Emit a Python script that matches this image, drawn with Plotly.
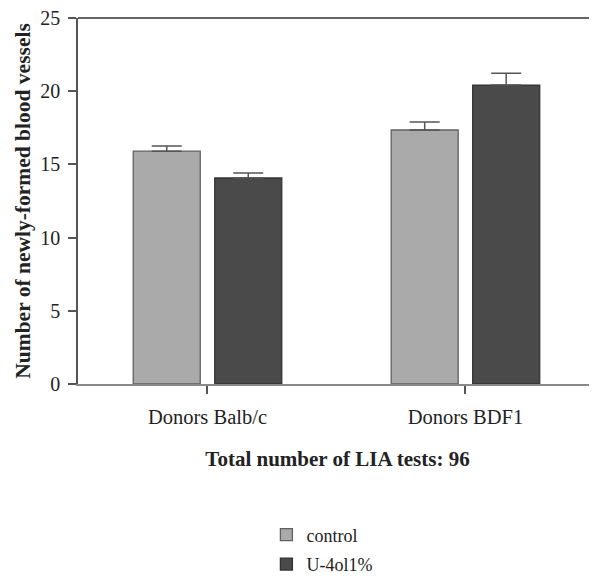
import plotly.graph_objects as go

categories = ["Donors Balb/c", "Donors BDF1"]
control_vals = [15.9, 17.35]
control_err = [0.35, 0.55]
u4_vals = [14.07, 20.42]
u4_err = [0.35, 0.8]
y_ticks = [0, 5, 10, 15, 20, 25]

FF = "Liberation Serif"

fig = go.Figure()
fig.add_trace(go.Bar(
    name="control", x=categories, y=control_vals, legendgroup="a",
    marker=dict(color="#aaaaaa", line=dict(color="#606060", width=1.3)),
    error_y=dict(type="data", array=control_err, arrayminus=[0, 0], symmetric=False,
                 color="#555555", thickness=1.5, width=15),
))
fig.add_trace(go.Bar(
    name="U-4ol1%", x=categories, y=u4_vals, legendgroup="b",
    marker=dict(color="#4a4a4a", line=dict(color="#333333", width=1.3)),
    error_y=dict(type="data", array=u4_err, arrayminus=[0, 0], symmetric=False,
                 color="#555555", thickness=1.5, width=15),
))

fig.update_layout(
    width=589, height=570,
    margin=dict(l=70, r=0, t=10, b=194, autoexpand=False),
    paper_bgcolor="white", plot_bgcolor="white",
    barmode="group", bargap=0.368, bargroupgap=0.178,
    font=dict(family=FF, size=20, color="#222222"),
    showlegend=True,
    legend=dict(orientation="v", x=0.363, xanchor="left", y=-0.362, yanchor="top",
                font=dict(size=18, family=FF, color="#222222"), itemwidth=30,
                traceorder="grouped", tracegroupgap=3),
    xaxis=dict(
        range=[-0.502, 1.51], showline=True, linecolor="#8a8a8a", linewidth=1.5,
        ticks="outside", ticklen=8, tickcolor="#555555", tickwidth=1.5,
        ticklabelstandoff=6,
        tickfont=dict(size=20.5, family=FF, color="#222222"), showgrid=False, zeroline=False,
        title=dict(text="<b>Total number of LIA tests: 96</b>",
                   font=dict(size=21, family=FF, color="#222222"), standoff=24),
    ),
    yaxis=dict(
        range=[0, 25], tickvals=y_ticks, showline=True, linecolor="#555555", linewidth=1.5,
        ticks="outside", ticklen=8, tickcolor="#555555", tickwidth=1.5,
        ticklabeloverflow="allow", ticklabelstandoff=4,
        tickfont=dict(size=20, family=FF, color="#222222"), showgrid=False, zeroline=False,
        title=dict(text="<b>Number of newly-formed blood vessels</b>",
                   font=dict(size=21.5, family=FF, color="#222222"), standoff=4),
    ),
)
fig.add_shape(type="line", xref="paper", yref="paper", x0=0, x1=1, y0=1, y1=1,
              line=dict(color="#333333", width=1.5))

fig.write_html("out.html")
